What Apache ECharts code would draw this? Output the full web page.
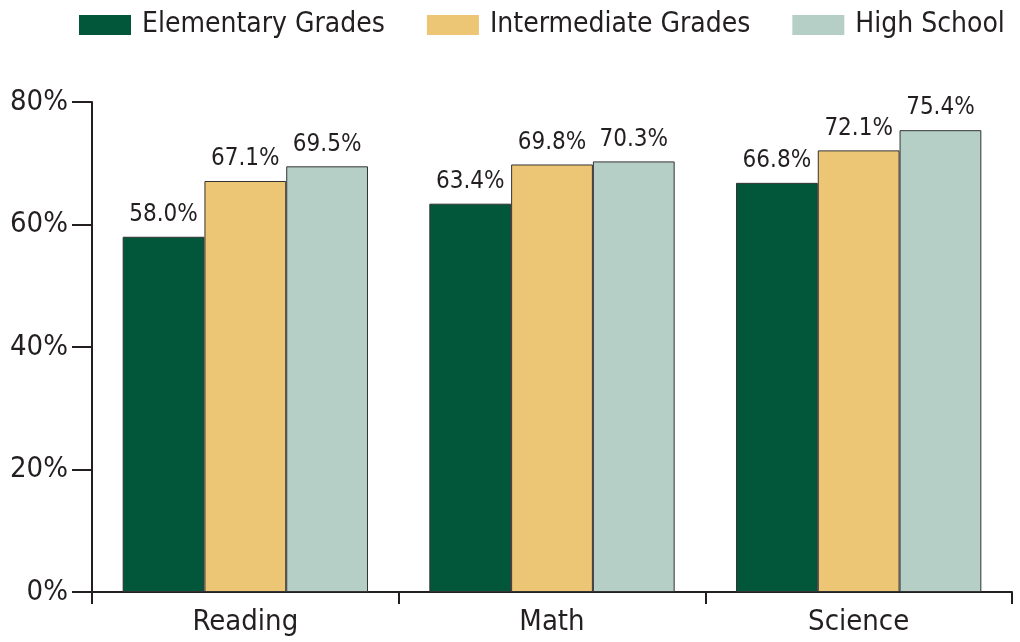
<!DOCTYPE html>
<html>
<head>
<meta charset="utf-8">
<script src="https://cdn.jsdelivr.net/npm/echarts@6/dist/echarts.min.js"></script>
<style>
  html, body { margin: 0; padding: 0; background: #fff; }
  #chart { width: 1020px; height: 642px; }
</style>
</head>
<body>
<div id="chart"></div>
<script>
// 数据
const subjects = ['Reading', 'Math', 'Science'];
const seriesNames = ['Elementary Grades', 'Intermediate Grades', 'High School'];
const elementary = [58.0, 63.4, 66.8];
const intermediate = [67.1, 69.8, 72.1];
const highSchool = [69.5, 70.3, 75.4];
const yTicks = [0, 20, 40, 60, 80];

const colors = ['#02573b', '#edc675', '#b5cfc6'];
const font = '"DejaVu Sans Condensed", "Liberation Sans", sans-serif';
const textColor = '#231f20';

function makeSeries(name, values, color) {
    return {
        name: name,
        type: 'bar',
        data: values,
        barGap: '0%',
        barCategoryGap: '20%',
        itemStyle: { color: color, borderColor: '#333333', borderWidth: 1 },
        label: {
            show: true,
            position: 'top',
            distance: 10,
            formatter: p => p.value.toFixed(1) + '%',
            fontFamily: font,
            fontSize: 24,
            color: textColor
        }
    };
}

const chart = echarts.init(document.getElementById('chart'));
chart.setOption({
    animation: false,
    color: colors,
    textStyle: { fontFamily: font },
    legend: {
        data: seriesNames,
        icon: 'rect',
        left: 74,
        top: 6,
        width: 945,
        itemWidth: 52,
        itemHeight: 20,
        itemGap: 42,
        itemStyle: { borderWidth: 0 },
        textStyle: { fontFamily: font, fontSize: 28, color: textColor, padding: [0, 0, 0, 6] }
    },
    grid: { left: 92, right: 8, top: 102, bottom: 50 },
    xAxis: {
        type: 'category',
        data: subjects,
        axisLine: { lineStyle: { color: textColor, width: 2 } },
        axisTick: { show: true, length: 12, lineStyle: { color: textColor, width: 2 } },
        axisLabel: { fontFamily: font, fontSize: 29, color: textColor, margin: 16 }
    },
    yAxis: {
        type: 'value',
        min: yTicks[0],
        max: yTicks[yTicks.length - 1],
        interval: 20,
        axisLine: { show: true, lineStyle: { color: textColor, width: 2 } },
        axisTick: { show: true, length: 20, lineStyle: { color: textColor, width: 2 } },
        splitLine: { show: false },
        axisLabel: { fontFamily: font, fontSize: 29, color: textColor, margin: 24, formatter: '{value}%' }
    },
    series: [
        makeSeries(seriesNames[0], elementary, colors[0]),
        makeSeries(seriesNames[1], intermediate, colors[1]),
        makeSeries(seriesNames[2], highSchool, colors[2])
    ]
});
</script>
</body>
</html>
